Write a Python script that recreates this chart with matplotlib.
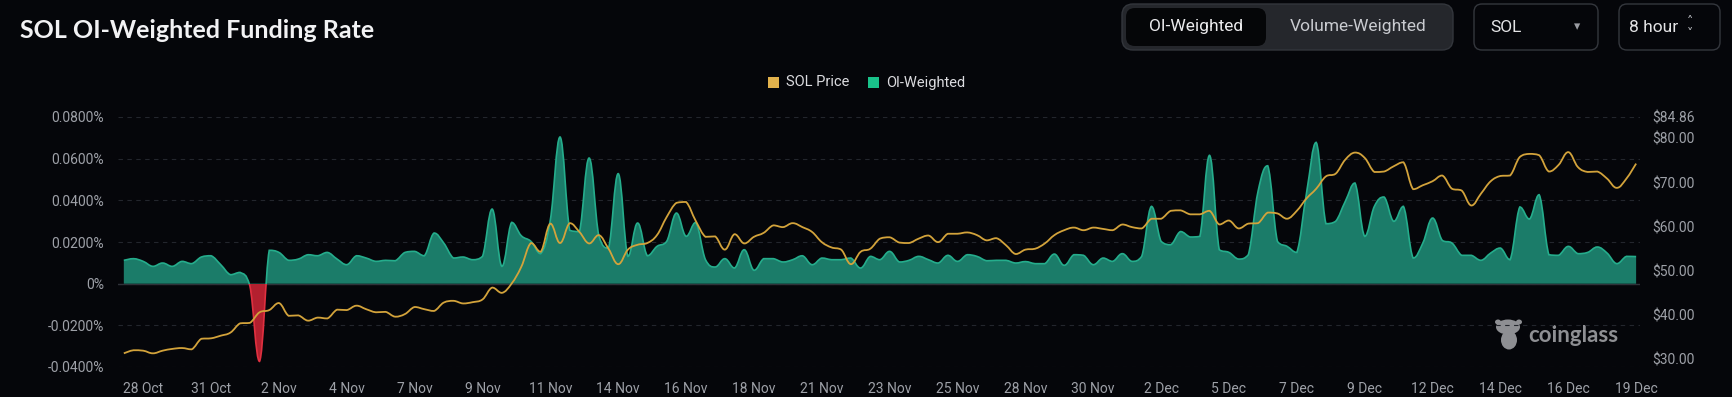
"""
    SOL OI-Weighted Funding Rate (coinglass)
"""
import matplotlib.pyplot as plt
from matplotlib.patches import FancyBboxPatch, Rectangle, Ellipse, PathPatch
from matplotlib.path import Path
import numpy as np

# Etiquetas del eje x (una cada 7 puntos de 8 horas)
fechas = ["28 Oct", "31 Oct", "2 Nov", "4 Nov", "7 Nov", "9 Nov", "11 Nov",
          "14 Nov", "16 Nov", "18 Nov", "21 Nov", "23 Nov", "25 Nov", "28 Nov",
          "30 Nov", "2 Dec", "5 Dec", "7 Dec", "9 Dec", "12 Dec", "14 Dec",
          "16 Dec", "19 Dec"]

# Funding rate ponderado por OI (%)
funding = [
    0.0112, 0.0120, 0.0107, 0.0083, 0.0099, 0.0083, 0.0107, 0.0096, 0.0128, 0.0134,
    0.0091, 0.0043, 0.0054, -0.0010, -0.0373, 0.0160, 0.0150, 0.0112, 0.0118, 0.0139,
    0.0134, 0.0150, 0.0118, 0.0091, 0.0134, 0.0123, 0.0107, 0.0112, 0.0110, 0.0150,
    0.0155, 0.0134, 0.0243, 0.0195, 0.0123, 0.0128, 0.0115, 0.0131, 0.0358, 0.0083,
    0.0294, 0.0230, 0.0203, 0.0144, 0.0307, 0.0704, 0.0256, 0.0250, 0.0603, 0.0230,
    0.0171, 0.0528, 0.0131, 0.0291, 0.0134, 0.0179, 0.0203, 0.0339, 0.0227, 0.0294,
    0.0115, 0.0080, 0.0120, 0.0075, 0.0163, 0.0064, 0.0120, 0.0120, 0.0104, 0.0115,
    0.0134, 0.0091, 0.0123, 0.0115, 0.0115, 0.0123, 0.0075, 0.0131, 0.0115, 0.0155,
    0.0104, 0.0112, 0.0131, 0.0115, 0.0099, 0.0136, 0.0107, 0.0139, 0.0131, 0.0110,
    0.0112, 0.0112, 0.0099, 0.0106, 0.0096, 0.0096, 0.0142, 0.0088, 0.0139, 0.0136,
    0.0091, 0.0123, 0.0107, 0.0144, 0.0107, 0.0131, 0.0371, 0.0203, 0.0187, 0.0250,
    0.0224, 0.0227, 0.0616, 0.0163, 0.0150, 0.0118, 0.0139, 0.0443, 0.0566, 0.0203,
    0.0179, 0.0150, 0.0435, 0.0678, 0.0288, 0.0299, 0.0395, 0.0483, 0.0227, 0.0371,
    0.0416, 0.0299, 0.0371, 0.0123, 0.0195, 0.0315, 0.0208, 0.0195, 0.0136, 0.0136,
    0.0112, 0.0147, 0.0171, 0.0115, 0.0368, 0.0310, 0.0427, 0.0139, 0.0136, 0.0179,
    0.0144, 0.0150, 0.0176, 0.0147, 0.0096, 0.0131, 0.0130,
]

# Precio de SOL (USD)
precio = [
    31.3, 32.0, 31.9, 31.3, 31.9, 32.3, 32.5, 32.2, 34.6, 34.7,
    35.3, 36.0, 38.1, 38.2, 40.6, 41.1, 42.7, 39.8, 39.9, 38.7,
    39.4, 39.2, 41.2, 41.1, 42.1, 41.3, 40.6, 40.7, 39.6, 40.2,
    41.8, 41.3, 40.9, 42.8, 43.2, 42.6, 42.9, 43.5, 46.2, 45.0,
    47.1, 50.9, 56.3, 54.3, 60.7, 56.3, 60.8, 58.8, 56.2, 58.1,
    55.0, 51.5, 54.8, 55.9, 56.3, 58.1, 62.2, 65.4, 65.6, 61.3,
    57.7, 57.8, 54.8, 58.3, 56.2, 57.7, 58.6, 60.3, 59.9, 60.8,
    59.9, 58.8, 56.5, 55.3, 54.8, 51.5, 54.3, 55.0, 57.3, 57.6,
    56.4, 56.3, 57.3, 58.0, 56.5, 58.4, 58.4, 58.7, 58.1, 56.9,
    57.4, 55.8, 53.8, 54.8, 55.0, 56.2, 58.1, 59.2, 59.8, 59.2,
    59.8, 59.5, 59.2, 60.5, 59.9, 59.6, 61.8, 61.8, 63.6, 63.7,
    62.8, 62.8, 63.6, 60.5, 61.4, 59.6, 60.7, 60.8, 63.2, 63.0,
    61.8, 63.6, 66.4, 68.6, 71.4, 72.0, 75.2, 76.8, 75.6, 72.4,
    72.5, 73.7, 74.6, 68.5, 69.4, 70.3, 71.6, 68.6, 68.2, 64.8,
    67.5, 70.3, 71.5, 71.6, 75.8, 76.5, 76.2, 72.5, 74.0, 76.9,
    73.5, 72.4, 72.5, 70.9, 68.8, 70.9, 74.3,
]

ticks_izq = [-0.04, -0.02, 0.0, 0.02, 0.04, 0.06, 0.08]
ticks_der = [30, 40, 50, 60, 70, 80, 84.86]

FONDO = "#05060a"
GRIS = "#9ea1a8"
W, H = 1732, 397


def etiqueta_pct(v):
    if abs(v) < 1e-12:
        return "0%"
    return "{:.4f}%".format(v)


# Curva suave tipo "smooth" de echarts: bezier cubica entre los puntos,
# con los puntos de control acotados para que no se pase de los valores
def curva(x, y, t=0.2):
    x = np.asarray(x, float)
    y = np.asarray(y, float)
    verts = [(x[0], y[0])]
    codes = [Path.MOVETO]
    n = len(x)
    for i in range(n - 1):
        a = max(i - 1, 0)
        b = min(i + 2, n - 1)
        lo = min(y[i], y[i + 1])
        hi = max(y[i], y[i + 1])
        c1y = np.clip(y[i] + (y[i + 1] - y[a]) * t, lo, hi)
        c2y = np.clip(y[i + 1] - (y[b] - y[i]) * t, lo, hi)
        c1 = (x[i] + (x[i + 1] - x[a]) * t, c1y)
        c2 = (x[i + 1] - (x[b] - x[i]) * t, c2y)
        verts += [c1, c2, (x[i + 1], y[i + 1])]
        codes += [Path.CURVE4] * 3
    return verts, codes


def main():
    plt.rcParams["font.family"] = ["Roboto", "DejaVu Sans"]
    fig = plt.figure(figsize=(W / 100, H / 100), dpi=100, facecolor=FONDO)

    # capa para textos y controles, en pixeles
    capa = fig.add_axes([0, 0, 1, 1], zorder=0)
    capa.set_xlim(0, W)
    capa.set_ylim(H, 0)
    capa.axis("off")

    # grafica principal
    ax = fig.add_axes([118 / W, 30 / H, 1522 / W, 250 / H], zorder=2)
    ax.set_facecolor("none")
    x = np.arange(len(funding))

    verts, codes = curva(x, funding)
    # area: curva + regreso por la linea de cero
    area_v = verts + [(x[-1], 0), (x[0], 0), (x[0], funding[0])]
    area_c = codes + [Path.LINETO, Path.LINETO, Path.CLOSEPOLY]
    arriba = Rectangle((-5, 0), len(x) + 10, 1, transform=ax.transData)
    abajo = Rectangle((-5, -1), len(x) + 10, 1, transform=ax.transData)
    for color, clip in (("#1b7c69", arriba), ("#b3202f", abajo)):
        p = PathPatch(Path(area_v, area_c), fc=color, ec="none", zorder=2)
        ax.add_patch(p)
        p.set_clip_path(clip)
    for color, clip in (("#25ad8c", arriba), ("#e03040", abajo)):
        p = PathPatch(Path(verts, codes), fc="none", ec=color, lw=1.2, zorder=3)
        ax.add_patch(p)
        p.set_clip_path(clip)
    ax.axhline(0, color="#2f3239", lw=1, zorder=1)

    ax.set_ylim(-0.04, 0.08)
    ax.set_xlim(-0.6, len(funding) - 0.6)
    ax.set_yticks(ticks_izq)
    ax.set_yticklabels([etiqueta_pct(v) for v in ticks_izq])
    ax.yaxis.grid(True, linestyle=(0, (4, 4)), color="#23262d", lw=0.8)
    ax.set_axisbelow(True)
    ax.set_xticks([2 + 7 * k for k in range(len(fechas))])
    ax.set_xticklabels(fechas)
    ax.tick_params(axis="both", length=0, colors=GRIS, labelsize=10)
    ax.tick_params(axis="y", pad=10)
    ax.tick_params(axis="x", pad=11)
    for s in ax.spines.values():
        s.set_visible(False)

    # precio en eje derecho
    ax2 = ax.twinx()
    pv, pc = curva(x, precio)
    ax2.add_patch(PathPatch(Path(pv, pc), fc="none", ec="#d3a33b", lw=1.3,
                            zorder=4))
    ax2.set_ylim(28.2, 84.86)
    ax2.set_yticks(ticks_der)
    ax2.set_yticklabels(["${:.2f}".format(v) for v in ticks_der])
    ax2.tick_params(axis="y", length=0, colors=GRIS, labelsize=10, pad=9)
    for s in ax2.spines.values():
        s.set_visible(False)

    # titulo
    capa.text(20, 30, "SOL OI-Weighted Funding Rate", fontsize=18,
              fontweight="bold", color="#f2f2f4", family="Lato", va="center")

    # controles de arriba a la derecha
    capa.add_patch(FancyBboxPatch((1122, 4), 331, 46,
                                  boxstyle="round,pad=0,rounding_size=11",
                                  fc="#25272c", ec="#33363c", lw=1))
    capa.add_patch(FancyBboxPatch((1126, 8), 140, 38,
                                  boxstyle="round,pad=0,rounding_size=9",
                                  fc="#050608", ec="none"))
    capa.text(1196, 27, "OI-Weighted", fontsize=12.5, color="#ececee",
              ha="center", va="center")
    capa.text(1358, 27, "Volume-Weighted", fontsize=12.5, color="#c9cbd0",
              ha="center", va="center")

    capa.add_patch(FancyBboxPatch((1474, 4), 124, 46,
                                  boxstyle="round,pad=0,rounding_size=8",
                                  fc=FONDO, ec="#34373d", lw=1))
    capa.text(1490, 27, "SOL", fontsize=12.5, color="#e4e4e6", va="center")
    capa.text(1577, 27, "▾", fontsize=9, color="#9a9ca2", ha="center",
              va="center", family="DejaVu Sans")

    capa.add_patch(FancyBboxPatch((1619, 4), 101, 46,
                                  boxstyle="round,pad=0,rounding_size=8",
                                  fc=FONDO, ec="#34373d", lw=1))
    capa.text(1629, 27, "8 hour", fontsize=12.5, color="#e4e4e6", va="center")
    capa.text(1690, 22, "˄", fontsize=9, color="#c0c2c7", ha="center",
              va="center", family="DejaVu Sans")
    capa.text(1690, 33, "˅", fontsize=9, color="#c0c2c7", ha="center",
              va="center", family="DejaVu Sans")

    # leyenda
    capa.add_patch(Rectangle((768, 77), 11, 11, fc="#e2b24c", ec="none"))
    capa.text(786, 82.5, "SOL Price", fontsize=10.5, color="#dcdce0",
              va="center")
    capa.add_patch(Rectangle((868, 77), 11, 11, fc="#19c28a", ec="none"))
    capa.text(886, 82.5, "OI-Weighted", fontsize=10.5, color="#dcdce0",
              va="center")

    # marca de agua
    gris_marca = "#8e8f93"
    capa.add_patch(Ellipse((1508, 327), 24, 15, fc=gris_marca, ec="none"))
    capa.add_patch(Ellipse((1509, 340), 16, 19, fc=gris_marca, ec="none"))
    capa.add_patch(Ellipse((1498, 322), 6, 5, fc=gris_marca, ec="none"))
    capa.add_patch(Ellipse((1519, 322), 6, 5, fc=gris_marca, ec="none"))
    capa.text(1528, 335, "coinglass", fontsize=16, fontweight="bold",
              color=gris_marca, family="Lato", va="center")

    fig.savefig("out.png", dpi=100, facecolor=FONDO)


main()
